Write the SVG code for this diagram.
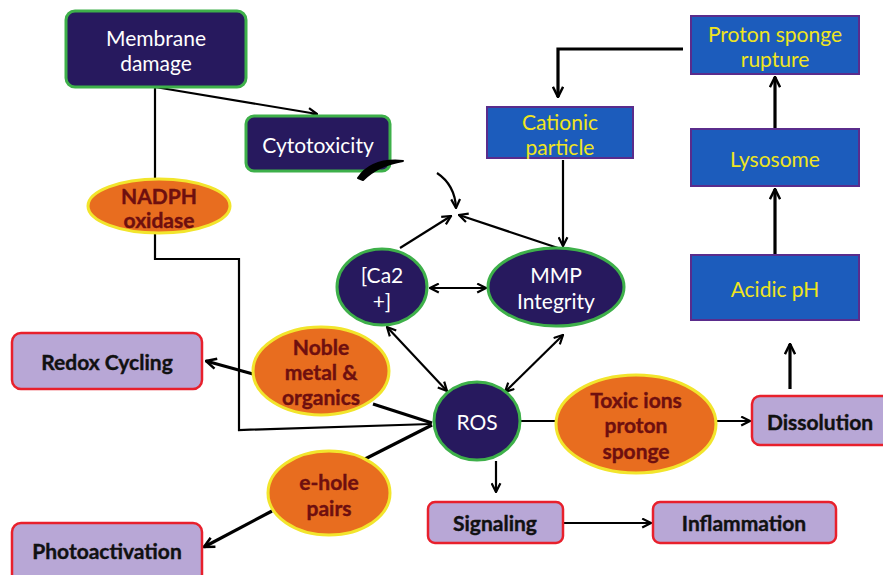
<svg xmlns="http://www.w3.org/2000/svg" width="883" height="575" viewBox="0 0 883 575">
  <style>
    .navy { fill: #27195e; stroke: #3eb04a; stroke-width: 3; }
    .blue { fill: #1c5cbc; stroke: #5a2c8c; stroke-width: 2; }
    .lav { fill: #b8a7d6; stroke: #e8202c; stroke-width: 2.5; }
    .orange { fill: #e86d1f; stroke: #f2e52c; stroke-width: 3; }
    text { font-family: Lato, "Open Sans", "Liberation Sans", sans-serif; text-anchor: middle; dominant-baseline: central; font-size: 21px; }
    .tw { fill: #ffffff; }
    .ty { fill: #f0e51e; }
    .tk { fill: #111111; font-weight: bold; stroke: #111111; stroke-width: 0.4; }
    .tr { fill: #6e0f0f; font-weight: bold; stroke: #6e0f0f; stroke-width: 0.4; }
    .ln { fill: none; stroke: #000; stroke-width: 2.2; }
    .lnb { fill: none; stroke: #000; stroke-width: 3.2; }
  </style>
  <defs>
    <marker id="ah" viewBox="0 0 10 10" refX="9" refY="5" markerWidth="5" markerHeight="5" orient="auto-start-reverse" markerUnits="strokeWidth">
      <path d="M1,1 L9,5 L1,9" fill="none" stroke="#000" stroke-width="2"/>
    </marker>
    <marker id="ahb" viewBox="0 0 10 10" refX="9" refY="5" markerWidth="4" markerHeight="4" orient="auto-start-reverse" markerUnits="strokeWidth">
      <path d="M1,1 L9,5 L1,9" fill="none" stroke="#000" stroke-width="2"/>
    </marker>
  </defs>

  <rect width="883" height="575" fill="#ffffff"/>

  <!-- connectors -->
  <g id="connectors">
    <line class="ln" x1="155" y1="87" x2="317" y2="114" marker-end="url(#ah)"/>
    <line class="ln" x1="155" y1="87" x2="155" y2="179"/>
    <polyline class="ln" points="155,233 155,259 239,259 239,430 431,424"/>
    <path class="ln" d="M437,173 Q455,185 456,208" marker-end="url(#ah)"/>
    <line class="ln" x1="400" y1="248" x2="451" y2="216" marker-end="url(#ah)"/>
    <line class="ln" x1="558" y1="248" x2="459" y2="215" marker-end="url(#ah)"/>
    <line class="ln" x1="430" y1="288" x2="486" y2="288" marker-start="url(#ah)" marker-end="url(#ah)"/>
    <line class="ln" x1="387" y1="327" x2="447" y2="391" marker-start="url(#ah)" marker-end="url(#ah)"/>
    <line class="ln" x1="563" y1="335" x2="505" y2="392" marker-start="url(#ah)" marker-end="url(#ah)"/>
    <line class="ln" x1="563" y1="160" x2="563" y2="246" marker-end="url(#ah)"/>
    <polyline class="lnb" points="683,49 558,49 558,97" marker-end="url(#ahb)"/>
    <line class="lnb" x1="775" y1="129" x2="775" y2="77" marker-end="url(#ahb)"/>
    <line class="lnb" x1="775" y1="255" x2="775" y2="189" marker-end="url(#ahb)"/>
    <line class="lnb" x1="790" y1="389" x2="790" y2="344" marker-end="url(#ahb)"/>
    <line class="ln" x1="520" y1="421" x2="556" y2="421"/>
    <line class="ln" x1="716" y1="421" x2="750" y2="421" marker-end="url(#ah)"/>
    <line class="ln" x1="496" y1="461" x2="496" y2="492" marker-end="url(#ah)"/>
    <line class="ln" x1="564" y1="523" x2="651" y2="523" marker-end="url(#ah)"/>
    <line class="lnb" x1="253" y1="374" x2="206" y2="361" marker-end="url(#ahb)"/>
    <line class="lnb" x1="373" y1="404" x2="432" y2="423"/>
    <line class="lnb" x1="365" y1="459" x2="432" y2="425"/>
    <line class="lnb" x1="272" y1="511" x2="204" y2="547" marker-end="url(#ahb)"/>
  </g>

  <!-- nodes -->
  <g id="membrane-damage">
    <rect class="navy" x="66" y="11" width="180" height="76" rx="9"/>
    <text class="tw" x="156" y="37">Membrane</text>
    <text class="tw" x="156" y="62">damage</text>
  </g>
  <g id="cytotoxicity">
    <rect class="navy" x="246" y="116" width="144" height="55" rx="8"/>
    <text class="tw" x="318" y="144">Cytotoxicity</text>
  </g>
  <g id="nadph-oxidase">
    <ellipse class="orange" cx="159" cy="206" rx="71" ry="27"/>
    <text class="tr" x="159" y="195">NADPH</text>
    <text class="tr" x="159" y="219">oxidase</text>
  </g>
  <g id="calcium">
    <ellipse class="navy" cx="382" cy="287" rx="45" ry="38"/>
    <text class="tw" x="382" y="274">[Ca2</text>
    <text class="tw" x="382" y="300">+]</text>
  </g>
  <g id="mmp-integrity">
    <ellipse class="navy" cx="556" cy="287" rx="68" ry="39"/>
    <text class="tw" x="556" y="274">MMP</text>
    <text class="tw" x="556" y="300">Integrity</text>
  </g>
  <g id="ros">
    <ellipse class="navy" cx="477" cy="421" rx="43" ry="39"/>
    <text class="tw" x="477" y="421">ROS</text>
  </g>
  <g id="cationic-particle">
    <rect class="blue" x="487" y="107" width="146" height="51"/>
    <text class="ty" x="560" y="121">Cationic</text>
    <text class="ty" x="560" y="146">particle</text>
  </g>
  <g id="proton-sponge-rupture">
    <rect class="blue" x="691" y="16" width="168" height="58"/>
    <text class="ty" x="775" y="33">Proton sponge</text>
    <text class="ty" x="775" y="58">rupture</text>
  </g>
  <g id="lysosome">
    <rect class="blue" x="691" y="129" width="168" height="57"/>
    <text class="ty" x="775" y="158">Lysosome</text>
  </g>
  <g id="acidic-ph">
    <rect class="blue" x="691" y="255" width="168" height="65"/>
    <text class="ty" x="775" y="288">Acidic pH</text>
  </g>
  <g id="toxic-ions">
    <ellipse class="orange" cx="636" cy="424" rx="80" ry="49"/>
    <text class="tr" x="636" y="399">Toxic ions</text>
    <text class="tr" x="636" y="424">proton</text>
    <text class="tr" x="636" y="450">sponge</text>
  </g>
  <g id="dissolution">
    <rect class="lav" x="752" y="396" width="140" height="49" rx="8"/>
    <text class="tk" x="820" y="421">Dissolution</text>
  </g>
  <g id="signaling">
    <rect class="lav" x="428" y="502" width="135" height="41" rx="7"/>
    <text class="tk" x="495" y="522">Signaling</text>
  </g>
  <g id="inflammation">
    <rect class="lav" x="653" y="502" width="183" height="41" rx="7"/>
    <text class="tk" x="744" y="522">Inflammation</text>
  </g>
  <g id="redox-cycling">
    <rect class="lav" x="12" y="333" width="190" height="56" rx="9"/>
    <text class="tk" x="107" y="361">Redox Cycling</text>
  </g>
  <g id="noble-metal">
    <ellipse class="orange" cx="321" cy="371" rx="68" ry="44"/>
    <text class="tr" x="321" y="346">Noble</text>
    <text class="tr" x="321" y="371">metal &amp;</text>
    <text class="tr" x="321" y="396">organics</text>
  </g>
  <g id="e-hole-pairs">
    <ellipse class="orange" cx="329" cy="493" rx="61" ry="42"/>
    <text class="tr" x="329" y="481">e-hole</text>
    <text class="tr" x="329" y="507">pairs</text>
  </g>
  <g id="photoactivation">
    <rect class="lav" x="12" y="523" width="190" height="60" rx="9"/>
    <text class="tk" x="107" y="550">Photoactivation</text>
  </g>

  <!-- curved stroke laid over the Cytotoxicity corner -->
  <g id="connector-overlay">
    <path d="M358,178 Q372,158 403,161 Q378,165 363,180 Z" fill="#000" stroke="#000" stroke-width="2" stroke-linejoin="round"/>
  </g>
</svg>
